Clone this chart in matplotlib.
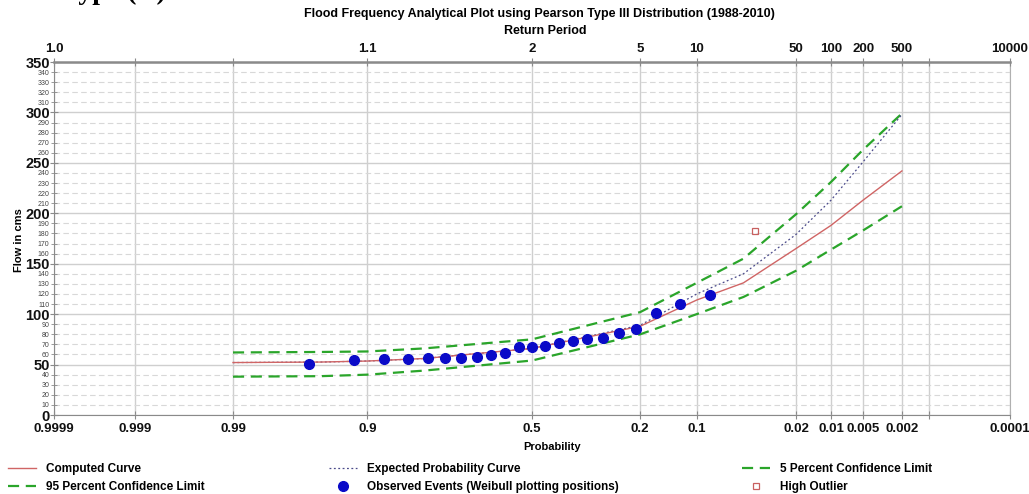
import numpy as np
import matplotlib
matplotlib.use("Agg")
from matplotlib import pyplot as plt
from matplotlib.ticker import FixedLocator, MultipleLocator, FuncFormatter
from matplotlib.lines import Line2D
from statistics import NormalDist

plt.rcParams['font.family'] = ['Liberation Sans', 'DejaVu Sans']

# exceedance probabilities of the frequency curve ordinates
curve_prob = [0.99, 0.95, 0.9, 0.8, 0.5, 0.2, 0.1, 0.05, 0.02, 0.01, 0.005, 0.002]
computed = [52, 52.5, 53.5, 56, 66, 88, 114, 131, 165, 188, 213, 242]
expected = [52, 52.5, 53.5, 56, 66, 89, 120, 140, 179, 213, 251, 298]
ci_05 = [62, 62.5, 63, 66, 75, 102, 131, 155, 199, 231, 263, 299]
ci_95 = [38, 38.5, 40, 44, 54, 80, 100, 117, 143, 164, 183, 207]

# observed events, Weibull plotting positions m/(n+1), n = 23
n_years = 23
obs_rank = list(range(2, 24))
obs_flow = [119, 110, 101, 85, 81, 76, 75, 73, 71, 68, 67, 67,
            61, 59, 57.5, 56.5, 56.5, 56.5, 56, 56, 55, 51]
outlier_rank = [1]
outlier_flow = [182]

prob_ticks = [0.9999, 0.999, 0.99, 0.9, 0.5, 0.2, 0.1, 0.02, 0.01, 0.005, 0.002, 0.001, 0.0001]
prob_labels = ['0.9999', '0.999', '0.99', '0.9', '0.5', '0.2', '0.1', '0.02', '0.01', '0.005', '0.002', '', '0.0001']
rp_labels = ['1.0', '', '', '1.1', '2', '5', '10', '50', '100', '200', '500', '', '10000']

_nd = NormalDist()
_ppf = np.vectorize(_nd.inv_cdf, otypes=[float])
_cdf = np.vectorize(_nd.cdf, otypes=[float])


def prob_fwd(p):
    p = np.clip(np.asarray(p, dtype=float), 1e-12, 1 - 1e-12)
    return _ppf(p)


def prob_inv(z):
    return _cdf(np.asarray(z, dtype=float))


obs_prob = [m / (n_years + 1) for m in obs_rank]
outlier_prob = [m / (n_years + 1) for m in outlier_rank]

W, H = 1029, 494
fig = plt.figure(figsize=(W / 100, H / 100), dpi=100)
ax = fig.add_axes([54 / W, 1 - 415 / H, (1010 - 54) / W, (415 - 62) / H])
ax.set_xscale('function', functions=(prob_fwd, prob_inv))
ax.set_xlim(0.9999, 0.0001)
ax.set_ylim(0, 350)

grid_c = '#cfcfcf'
ax.xaxis.set_major_locator(FixedLocator(prob_ticks))
ax.set_xticklabels(prob_labels)
ax.xaxis.set_minor_locator(FixedLocator([]))
ax.yaxis.set_major_locator(MultipleLocator(50))
ax.yaxis.set_minor_locator(MultipleLocator(10))
ax.yaxis.set_minor_formatter(FuncFormatter(lambda v, pos: '%d' % v))
ax.grid(True, which='major', axis='both', color=grid_c, lw=1.0)
ax.grid(True, which='minor', axis='y', color='#d8d8d8', lw=0.8, ls=(0, (5, 3)))
ax.set_axisbelow(True)

for side in ['left', 'bottom', 'top', 'right']:
    ax.spines[side].set_color('#8a8a8a')
ax.spines['top'].set_linewidth(1.8)
ax.spines['right'].set_color('#b0b0b0')

ax.tick_params(axis='both', which='both', direction='inout', colors='#8a8a8a')
ax.tick_params(axis='x', which='major', length=6, pad=3, labelsize=9.5, labelcolor='#111111')
ax.tick_params(axis='y', which='major', length=6, pad=0, labelsize=10.5, labelcolor='#111111')
ax.tick_params(axis='y', which='minor', length=5, pad=1, labelsize=5, labelcolor='#444444')
for lab in ax.get_xticklabels() + ax.get_yticklabels():
    lab.set_fontweight('bold')

ax.plot(curve_prob, ci_05, color='#2aa52a', lw=1.6, ls=(0, (5, 3)), zorder=3)
ax.plot(curve_prob, ci_95, color='#2aa52a', lw=1.6, ls=(0, (5, 3)), zorder=3)
ax.plot(curve_prob, expected, color='#4a4a8a', lw=0.9, ls=(0, (1.5, 2)), zorder=4)
ax.plot(curve_prob, computed, color='#d06565', lw=1.0, zorder=4)
ax.plot(obs_prob, obs_flow, 'o', color='#0a0ac8', ms=7, zorder=5)
ax.plot(outlier_prob, outlier_flow, 's', mfc='none', mec='#c86060', ms=5, mew=0.9, zorder=5)

top = ax.twiny()
top.set_xscale('function', functions=(prob_fwd, prob_inv))
top.set_xlim(0.9999, 0.0001)
top.xaxis.set_major_locator(FixedLocator(prob_ticks))
top.set_xticklabels(rp_labels)
top.xaxis.set_minor_locator(FixedLocator([]))
top.tick_params(axis='x', direction='inout', length=6, pad=2, colors='#8a8a8a',
                labelsize=9.5, labelcolor='#111111')
for lab in top.get_xticklabels():
    lab.set_fontweight('bold')
for side in top.spines:
    top.spines[side].set_visible(False)

fig.text(539 / W, 1 - 14 / H,
         'Flood Frequency Analytical Plot using Pearson Type III Distribution (1988-2010)',
         ha='center', va='center', fontsize=9, fontweight='bold')
fig.text(545 / W, 1 - 31 / H, 'Return Period', ha='center', va='center',
         fontsize=9, fontweight='bold')
fig.text(552 / W, 1 - 447 / H, 'Probability', ha='center', va='center',
         fontsize=8, fontweight='bold')
fig.text(19 / W, 1 - 240 / H, 'Flow in cms', ha='center', va='center',
         rotation=90, fontsize=8, fontweight='bold')
fig.text(62 / W, 1 + 1 / H, 'Type (A)', ha='left', va='baseline', fontsize=20,
         fontweight='bold', family='Liberation Serif')

# legend, three columns placed where the reference has them
legend_cols = [
    (8, [Line2D([], [], color='#d06565', lw=1.0),
         Line2D([], [], color='#2aa52a', lw=1.6, ls=(0, (5, 3)))],
     ['Computed Curve', '95 Percent Confidence Limit']),
    (329, [Line2D([], [], color='#4a4a8a', lw=0.9, ls=(0, (1.5, 2))),
           Line2D([], [], ls='none', marker='o', color='#0a0ac8', ms=7)],
     ['Expected Probability Curve', 'Observed Events (Weibull plotting positions)']),
    (742, [Line2D([], [], color='#2aa52a', lw=1.6, ls=(0, (5, 3))),
           Line2D([], [], ls='none', marker='s', mfc='none', mec='#c86060', ms=5, mew=0.9)],
     ['5 Percent Confidence Limit', 'High Outlier']),
]
for x0, hs, ls in legend_cols:
    leg = fig.legend(hs, ls, loc='upper left', bbox_to_anchor=(x0 / W, 1 - 463 / H),
                     frameon=False, fontsize=8.5, handlelength=2.4, handletextpad=0.8,
                     labelspacing=0.52, borderpad=0, borderaxespad=0)
    for t in leg.get_texts():
        t.set_fontweight('bold')

fig.savefig('out.png', dpi=100)
